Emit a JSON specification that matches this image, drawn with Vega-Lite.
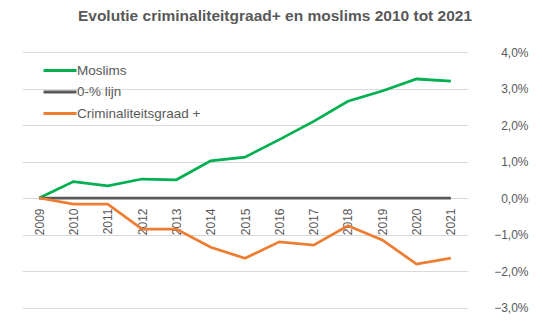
{
  "$schema": "https://vega.github.io/schema/vega-lite/v6.json",
  "width": 446,
  "height": 255.5,
  "autosize": "none",
  "padding": {"left": 22, "top": 52, "right": 74, "bottom": 17.5},
  "background": "white",
  "title": {
    "text": "Evolutie criminaliteitgraad+  en moslims 2010 tot 2021",
    "font": "Liberation Sans",
    "fontSize": 15.5,
    "fontWeight": "bold",
    "color": "#595959",
    "anchor": "middle",
    "dx": 30,
    "offset": 22
  },
  "data": {
    "values": [
      {"year": "2009", "series": "Moslims", "value": 0},
      {"year": "2010", "series": "Moslims", "value": 0.45},
      {"year": "2011", "series": "Moslims", "value": 0.33},
      {"year": "2012", "series": "Moslims", "value": 0.52},
      {"year": "2013", "series": "Moslims", "value": 0.5},
      {"year": "2014", "series": "Moslims", "value": 1.02},
      {"year": "2015", "series": "Moslims", "value": 1.12},
      {"year": "2016", "series": "Moslims", "value": 1.6},
      {"year": "2017", "series": "Moslims", "value": 2.1},
      {"year": "2018", "series": "Moslims", "value": 2.65},
      {"year": "2019", "series": "Moslims", "value": 2.93},
      {"year": "2020", "series": "Moslims", "value": 3.26},
      {"year": "2021", "series": "Moslims", "value": 3.2},
      {"year": "2009", "series": "0-% lijn", "value": 0},
      {"year": "2010", "series": "0-% lijn", "value": 0},
      {"year": "2011", "series": "0-% lijn", "value": 0},
      {"year": "2012", "series": "0-% lijn", "value": 0},
      {"year": "2013", "series": "0-% lijn", "value": 0},
      {"year": "2014", "series": "0-% lijn", "value": 0},
      {"year": "2015", "series": "0-% lijn", "value": 0},
      {"year": "2016", "series": "0-% lijn", "value": 0},
      {"year": "2017", "series": "0-% lijn", "value": 0},
      {"year": "2018", "series": "0-% lijn", "value": 0},
      {"year": "2019", "series": "0-% lijn", "value": 0},
      {"year": "2020", "series": "0-% lijn", "value": 0},
      {"year": "2021", "series": "0-% lijn", "value": 0},
      {"year": "2009", "series": "Criminaliteitsgraad +", "value": 0},
      {"year": "2010", "series": "Criminaliteitsgraad +", "value": -0.17},
      {"year": "2011", "series": "Criminaliteitsgraad +", "value": -0.17},
      {"year": "2012", "series": "Criminaliteitsgraad +", "value": -0.85},
      {"year": "2013", "series": "Criminaliteitsgraad +", "value": -0.85},
      {"year": "2014", "series": "Criminaliteitsgraad +", "value": -1.35},
      {"year": "2015", "series": "Criminaliteitsgraad +", "value": -1.65},
      {"year": "2016", "series": "Criminaliteitsgraad +", "value": -1.2},
      {"year": "2017", "series": "Criminaliteitsgraad +", "value": -1.29},
      {"year": "2018", "series": "Criminaliteitsgraad +", "value": -0.76},
      {"year": "2019", "series": "Criminaliteitsgraad +", "value": -1.15},
      {"year": "2020", "series": "Criminaliteitsgraad +", "value": -1.81},
      {"year": "2021", "series": "Criminaliteitsgraad +", "value": -1.65}
    ]
  },
  "mark": {"type": "line", "strokeWidth": 2.75},
  "encoding": {
    "x": {
      "field": "year",
      "type": "ordinal",
      "scale": {"type": "point", "padding": 0.5},
      "axis": {
        "title": null,
        "domain": false,
        "ticks": false,
        "offset": -109.5,
        "labelAngle": -90,
        "labelPadding": 10,
        "labelFont": "Liberation Sans",
        "labelFontSize": 12,
        "labelColor": "#595959"
      }
    },
    "y": {
      "field": "value",
      "type": "quantitative",
      "scale": {"domain": [-3, 4], "nice": false},
      "axis": {
        "orient": "right",
        "title": null,
        "domain": false,
        "ticks": false,
        "values": [-3, -2, -1, 0, 1, 2, 3, 4],
        "labelExpr": "replace(format(datum.value, '.1f'), '.', ',') + '%'",
        "labelAlign": "right",
        "labelPadding": 60,
        "labelFont": "Liberation Sans",
        "labelFontSize": 12,
        "labelColor": "#595959",
        "gridColor": "#D9D9D9",
        "gridWidth": 1
      }
    },
    "color": {
      "field": "series",
      "type": "nominal",
      "sort": ["Moslims", "0-% lijn", "Criminaliteitsgraad +"],
      "scale": {
        "domain": ["Moslims", "0-% lijn", "Criminaliteitsgraad +"],
        "range": ["#00B050", "#595959", "#ED7D31"]
      },
      "legend": {
        "title": null,
        "orient": "none",
        "legendX": 28,
        "legendY": 8.5,
        "symbolType": "M-2,0L2,0",
        "symbolSize": 272,
        "symbolStrokeWidth": 3,
        "labelFont": "Liberation Sans",
        "labelFontSize": 13.5,
        "labelColor": "#595959",
        "labelOffset": 7,
        "rowPadding": 4.5,
        "symbolOffset": 0
      }
    }
  },
  "config": {"view": {"stroke": null}}
}
